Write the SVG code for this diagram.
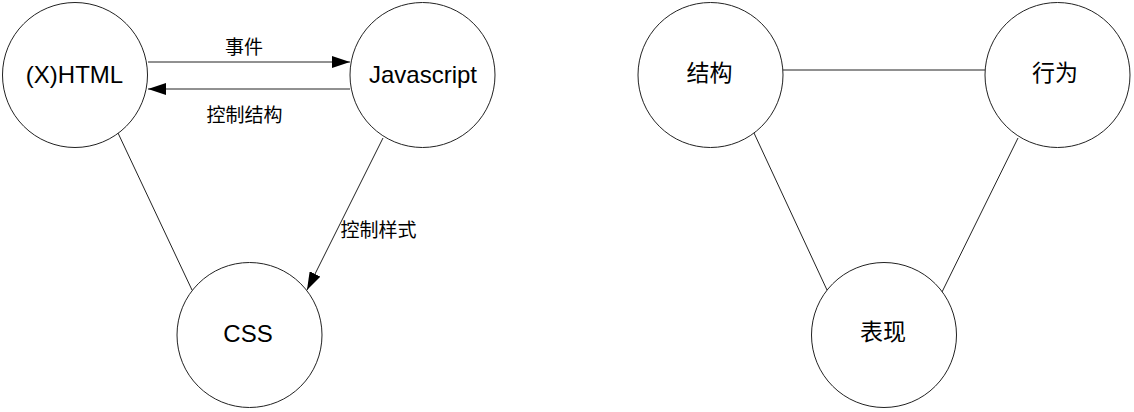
<svg xmlns="http://www.w3.org/2000/svg" width="1134" height="412" viewBox="0 0 1134 412">
<style>
.node{fill:#fff;stroke:#222;stroke-width:1}
.lat{font-family:"Liberation Sans",Arial,sans-serif;font-size:24px;fill:#000;text-anchor:middle}
.cjk{font-family:"Liberation Sans","Noto Sans CJK SC",sans-serif;font-size:23px;fill:#000;text-anchor:middle}
.lbl{font-family:"Liberation Sans","Noto Sans CJK SC",sans-serif;font-size:19px;fill:#000;text-anchor:middle}
.edge{stroke:#222;stroke-width:1;fill:none}
</style>
<defs>
<marker id="arr" viewBox="0 0 18 12" refX="18" refY="6" markerWidth="18" markerHeight="12" markerUnits="userSpaceOnUse" orient="auto">
<path d="M0,0 L18,6 L0,12 Z" fill="#000"/>
</marker>
</defs>
<g id="connectors">
<line class="edge" x1="148" y1="62" x2="350" y2="62" marker-end="url(#arr)"/>
<line class="edge" x1="350" y1="89" x2="148" y2="89" marker-end="url(#arr)"/>
<line class="edge" x1="118" y1="133" x2="192" y2="290"/>
<line class="edge" x1="383" y1="138" x2="307" y2="290" marker-end="url(#arr)"/>
<line class="edge" x1="783" y1="70" x2="985" y2="70"/>
<line class="edge" x1="754" y1="133" x2="827" y2="290"/>
<line class="edge" x1="1018" y1="138" x2="942" y2="292"/>
<text class="lbl" x="244" y="54">事件</text>
<text class="lbl" x="244.5" y="122">控制结构</text>
<text class="lbl" x="378.5" y="237">控制样式</text>
</g>
<g id="node-html">
<circle class="node" cx="75" cy="75" r="72.5"/>
<text class="lat" x="74.5" y="83">(X)HTML</text>
</g>
<g id="node-js">
<circle class="node" cx="422.5" cy="75" r="72.5"/>
<text class="lat" x="423" y="83">Javascript</text>
</g>
<g id="node-css">
<circle class="node" cx="249.5" cy="335" r="72.5"/>
<text class="lat" x="248" y="342">CSS</text>
</g>
<g id="node-jiegou">
<circle class="node" cx="710.5" cy="75" r="72.5"/>
<text class="cjk" x="709.5" y="81">结构</text>
</g>
<g id="node-xingwei">
<circle class="node" cx="1057.5" cy="75" r="72.5"/>
<text class="cjk" x="1055" y="81">行为</text>
</g>
<g id="node-biaoxian">
<circle class="node" cx="884" cy="335" r="72.5"/>
<text class="cjk" x="883" y="340">表现</text>
</g>
</svg>
